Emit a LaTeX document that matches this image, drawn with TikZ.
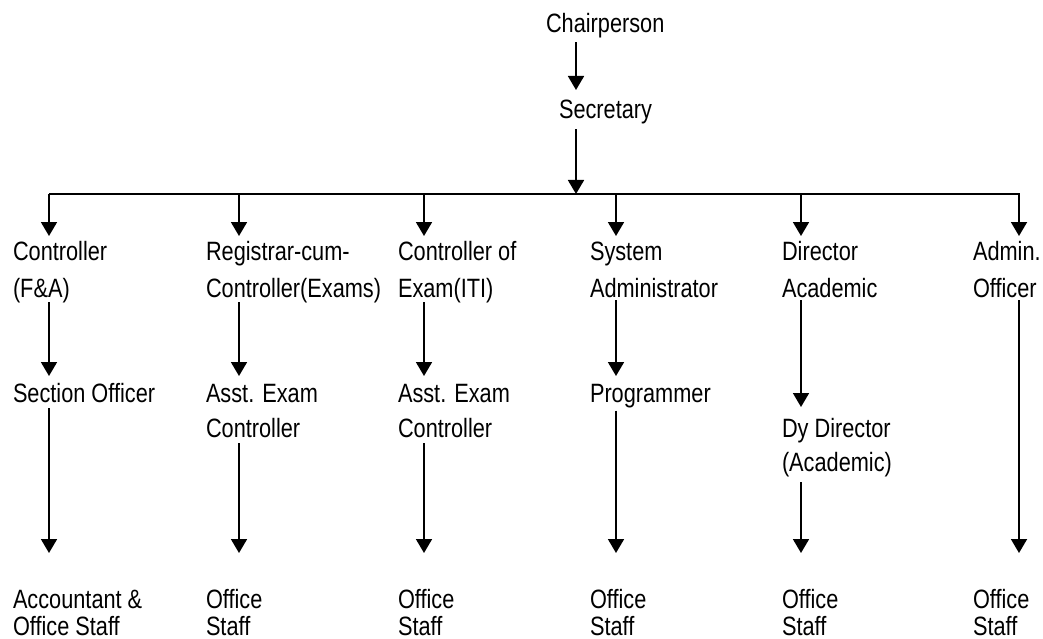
\documentclass[tikz,border=0pt]{standalone}
\usepackage{fontspec}
\setmainfont{Liberation Sans}[FakeStretch=0.82]
\usetikzlibrary{arrows.meta,calc}
\newcommand\ls{\rule[-3pt]{0pt}{25pt}}
\begin{document}
\begin{tikzpicture}[x=1pt,y=-1pt,
  lbl/.style={anchor=north west,inner sep=0pt,outer sep=0pt,align=left},
  rowa/.style={lbl,font=\fontsize{26.5}{37}\selectfont},
  rowb/.style={lbl,font=\fontsize{26.5}{35}\selectfont},
  rowc/.style={lbl,font=\fontsize{26.5}{34}\selectfont},
  rowd/.style={lbl,font=\fontsize{26.5}{27}\selectfont},
  conn/.style={line width=1.8pt},
  arr/.style={conn,-{Triangle[width=16pt,length=14pt]}}]
\useasboundingbox (0,0) rectangle (1043,639);
\coordinate (c0) at (576,0);
\coordinate (c1) at (49,0);
\coordinate (c2) at (239,0);
\coordinate (c3) at (424,0);
\coordinate (c4) at (616,0);
\coordinate (c5) at (801,0);
\coordinate (c6) at (1019,0);
\coordinate (barL) at (49,194);
\coordinate (barR) at (1020,194);
% nodes
\node[rowa] (chair) at (546,11) {\ls Chairperson};
\node[rowa] (sec) at (559,97) {\ls Secretary};
\node[rowa] (cfa) at (13,238) {\ls Controller\\\ls (F\&A)};
\node[rowa] (reg) at (206,238) {\ls Registrar-cum-\\\ls Controller(Exams)};
\node[rowa] (coe) at (398,238) {\ls Controller of\\\ls Exam(ITI)};
\node[rowa] (sys) at (590,238) {\ls System\\\ls Administrator};
\node[rowa] (dir) at (782,238) {\ls Director\\\ls Academic};
\node[rowa] (adm) at (973,238) {\ls Admin.\\\ls Officer};
\node[rowb] (so) at (13,380) {\ls Section Officer};
\node[rowb] (aea) at (206,380) {\ls Asst. Exam\\\ls Controller};
\node[rowb] (aeb) at (398,380) {\ls Asst. Exam\\\ls Controller};
\node[rowb] (prog) at (590,380) {\ls Programmer};
\node[rowc] (dyd) at (782,415) {\ls Dy Director\\\ls (Academic)};
\node[rowd] (acc) at (13,586) {\ls Accountant \&\\\ls Office Staff};
\node[rowd] (osb) at (206,586) {\ls Office\\\ls Staff};
\node[rowd] (osc) at (398,586) {\ls Office\\\ls Staff};
\node[rowd] (osd) at (590,586) {\ls Office\\\ls Staff};
\node[rowd] (ose) at (782,586) {\ls Office\\\ls Staff};
\node[rowd] (osf) at (973,586) {\ls Office\\\ls Staff};
% connectors
\draw[arr,shorten <=4pt,shorten >=7pt] (chair.south -| c0) -- (sec.north -| c0);
\draw[arr,shorten <=5pt] (sec.south -| c0) -- (c0 |- barL);
\draw[conn] (barL) -- (barR);
\draw[arr,shorten >=2pt] (c1 |- barL) -- (cfa.north -| c1);
\draw[arr,shorten >=2pt] (c2 |- barL) -- (reg.north -| c2);
\draw[arr,shorten >=2pt] (c3 |- barL) -- (coe.north -| c3);
\draw[arr,shorten >=2pt] (c4 |- barL) -- (sys.north -| c4);
\draw[arr,shorten >=2pt] (c5 |- barL) -- (dir.north -| c5);
\draw[arr,shorten >=2pt] (c6 |- barL) -- (adm.north -| c6);
\draw[arr,shorten >=4pt] (cfa.south -| c1) -- (so.north -| c1);
\draw[arr,shorten >=4pt] (reg.south -| c2) -- (aea.north -| c2);
\draw[arr,shorten >=4pt] (coe.south -| c3) -- (aeb.north -| c3);
\draw[arr,shorten >=4pt] (sys.south -| c4) -- (prog.north -| c4);
\draw[arr,shorten >=8pt] (dir.south -| c5) -- (dyd.north -| c5);
\draw[arr,shorten >=33pt] (adm.south -| c6) -- (osf.north -| c6);
\draw[arr,shorten <=3pt,shorten >=33pt] (so.south -| c1) -- (acc.north -| c1);
\draw[arr,shorten <=3pt,shorten >=33pt] (aea.south -| c2) -- (osb.north -| c2);
\draw[arr,shorten <=3pt,shorten >=33pt] (aeb.south -| c3) -- (osc.north -| c3);
\draw[arr,shorten <=3pt,shorten >=33pt] (prog.south -| c4) -- (osd.north -| c4);
\draw[arr,shorten <=6pt,shorten >=33pt] (dyd.south -| c5) -- (ose.north -| c5);
\end{tikzpicture}
\end{document}
